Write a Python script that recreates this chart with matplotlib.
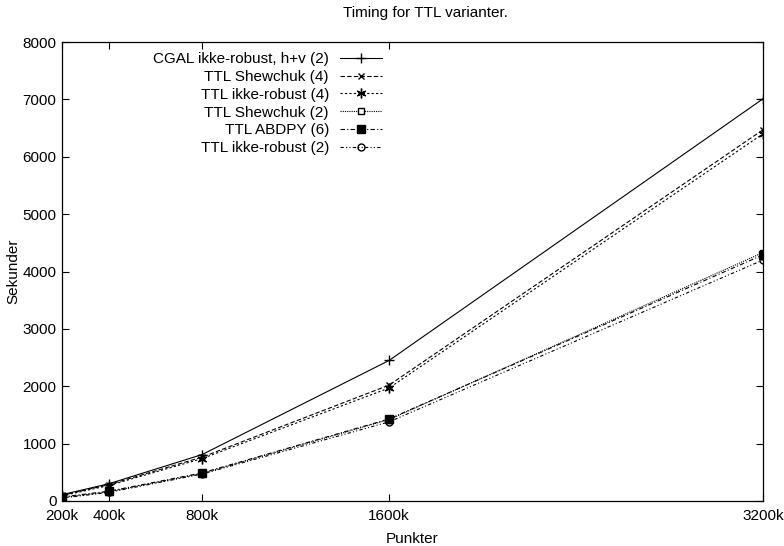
import numpy as np
import matplotlib.pyplot as plt

plt.rcParams['font.family'] = ['Liberation Sans', 'DejaVu Sans']

# data (thousand points -> seconds)
punkter = [200, 400, 800, 1600, 3200]
xlabels = ['200k', '400k', '800k', '1600k', '3200k']

cgal_hv2 = [110, 300, 810, 2450, 7010]
ttl_shew4 = [100, 285, 765, 2020, 6470]
ttl_ikke4 = [90, 270, 740, 1970, 6400]
ttl_shew2 = [60, 160, 480, 1420, 4330]
ttl_abdpy6 = [70, 170, 490, 1430, 4290]
ttl_ikke2 = [50, 150, 470, 1380, 4200]

fig = plt.figure(figsize=(7.84, 5.46), dpi=100)
ax = fig.add_axes([62/784, 1-501/546, 701/784, 459/546])

fs = 11
lw = 0.8
ms = 6
ax.plot(punkter, cgal_hv2, color='black', lw=lw, ls='-', marker='+', ms=ms+1,
        label='CGAL ikke-robust, h+v (2)')
ax.plot(punkter, ttl_shew4, color='black', lw=lw, ls=(0, (4, 2)), marker='x', ms=ms-1,
        label='TTL Shewchuk (4)')
ax.plot(punkter, ttl_ikke4, color='black', lw=lw, ls=(0, (2, 2)), marker=(6, 2, 0), ms=ms+1,
        label='TTL ikke-robust (4)')
ax.plot(punkter, ttl_shew2, color='black', lw=lw, ls=(0, (1, 1)), marker='s', ms=ms-1,
        mfc='white', label='TTL Shewchuk (2)')
ax.plot(punkter, ttl_abdpy6, color='black', lw=lw, ls=(0, (4, 2, 1, 2)), marker='s', ms=ms,
        label='TTL ABDPY (6)')
ax.plot(punkter, ttl_ikke2, color='black', lw=lw, ls=(0, (3, 2, 1, 2, 1, 2)), marker='o', ms=ms-1,
        mfc='none', label='TTL ikke-robust (2)')

ax.set_xlim(200, 3200)
ax.set_ylim(0, 8000)
ax.set_xticks(punkter)
ax.set_xticklabels(xlabels)
ax.set_yticks(np.arange(0, 8001, 1000))
ax.tick_params(direction='in', top=True, right=True, labelsize=fs, length=5, width=0.8)
ax.tick_params(axis='x', pad=6)
ax.tick_params(axis='y', pad=4)
for s in ax.spines.values():
    s.set_linewidth(0.9)

ax.set_title('Timing for TTL varianter.', fontsize=fs, pad=18, x=0.518)
ax.set_xlabel('Punkter', fontsize=fs, labelpad=6)
ax.set_ylabel('Sekunder', fontsize=fs)
ax.yaxis.set_label_coords(-0.059, 0.5)

ax.legend(loc='upper right', bbox_to_anchor=(0.457, 0.978), frameon=False,
          markerfirst=False, fontsize=fs, handlelength=2.8, handletextpad=0.7,
          labelspacing=0.25, borderpad=0, borderaxespad=0)

fig.savefig('out.png', dpi=100)
